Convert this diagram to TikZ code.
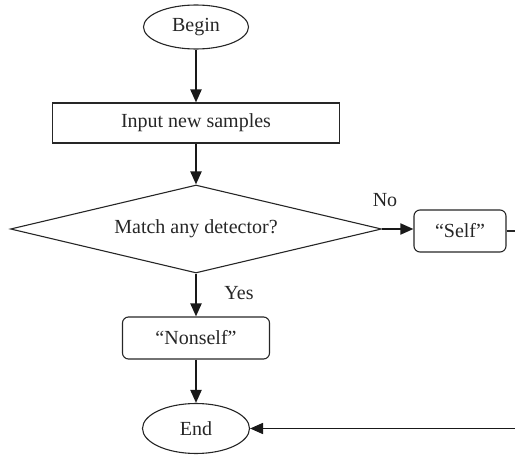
\documentclass[tikz,border=0pt]{standalone}
\usepackage{fontspec}
\setmainfont{Liberation Serif}
\usetikzlibrary{shapes.geometric,arrows.meta}
\begin{document}
\begin{tikzpicture}[x=1pt,y=-1pt,
  every node/.style={font=\fontsize{20}{24}\selectfont, text=black!85},
  shapeline/.style={draw=black!85, line width=1.1pt, inner sep=0pt},
  terminal/.style={shapeline, ellipse},
  procbox/.style={shapeline, rectangle},
  roundbox/.style={shapeline, rectangle, rounded corners=6pt},
  decision/.style={shapeline, diamond, aspect=4.2},
  flow/.style={draw=black!90, line width=2pt, -{Triangle[length=13pt,width=11pt]}},
  plainline/.style={draw=black!85, line width=1.4pt},
  lbl/.style={inner sep=0pt}
]
\useasboundingbox (0,0) rectangle (515,455);
\node[terminal, minimum width=105pt, minimum height=44pt] (begin) at (196,27) {Begin};
\node[procbox, minimum width=287pt, minimum height=40pt] (input) at (196,123) {Input new samples};
\node[decision, minimum width=371pt, minimum height=88pt] (dec) at (196,229) {Match any detector?};
\node[roundbox, minimum width=92pt, minimum height=42pt] (self) at (460,231) {“Self”};
\node[roundbox, minimum width=147pt, minimum height=42pt] (nonself) at (196,338) {“Nonself”};
\node[terminal, minimum width=107pt, minimum height=50pt] (end) at (196,428.5) {End};
\coordinate (selfout) at (515,231);
\coordinate (endin) at (515,428.5);
\draw[flow] (begin.south) -- (input.north);
\draw[flow] (input.south) -- (dec.north);
\draw[flow] (dec.south) -- (nonself.north);
\draw[flow] (nonself.south) -- (end.north);
\draw[flow, line width=1.8pt] (dec.east) -- (dec.east -| self.west);
\draw[plainline] (self.east) -- (selfout);
\draw[flow, line width=1.6pt] (endin) -- (end.east);
\node[lbl] (no) at (385,200) {No};
\node[lbl] (yes) at (239,293) {Yes};
\end{tikzpicture}
\end{document}
